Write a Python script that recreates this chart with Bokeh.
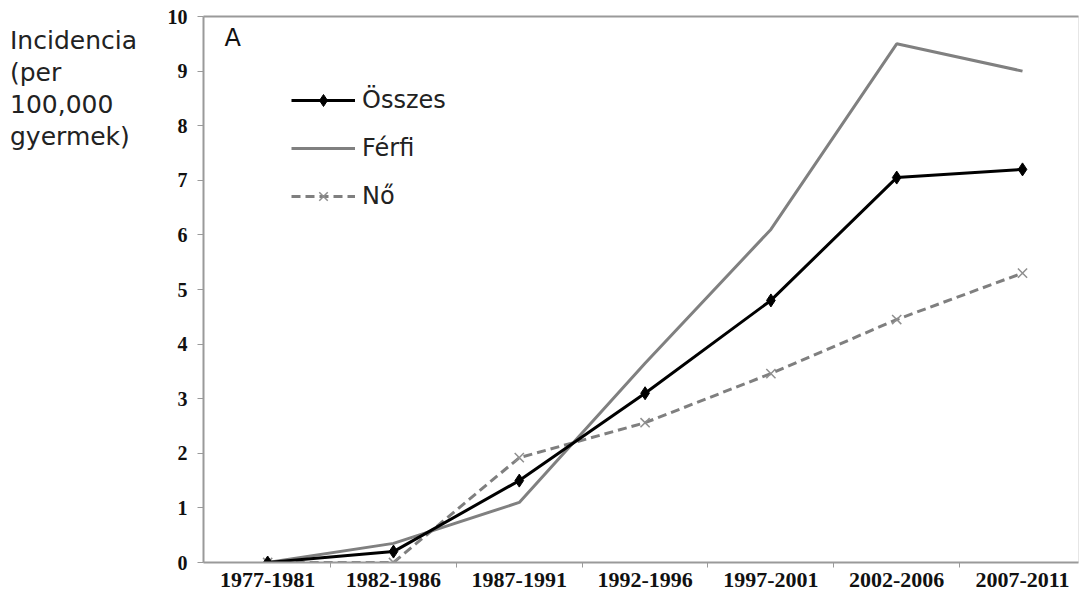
from bokeh.plotting import figure
from bokeh.layouts import row
from bokeh.models import (FixedTicker, LinearAxis, Label, Legend, LegendItem,
                          Range1d, Div)
from bokeh.embed import file_html
from bokeh.resources import INLINE

periods = ["1977-1981", "1982-1986", "1987-1991", "1992-1996",
           "1997-2001", "2002-2006", "2007-2011"]
osszes = [0.0, 0.2, 1.5, 3.1, 4.8, 7.05, 7.2]
ferfi = [0.0, 0.35, 1.1, 3.65, 6.1, 9.5, 9.0]
no = [0.0, 0.0, 1.92, 2.56, 3.46, 4.45, 5.3]
y_title = ["Incidencia", "(per", "100,000", "gyermek)"]

xs = [i + 0.5 for i in range(len(periods))]

p = figure(width=922, height=598, output_backend="svg", toolbar_location=None,
           x_range=Range1d(-0.01, 6.945), y_range=Range1d(0, 10),
           min_border_left=43, min_border_right=4, min_border_top=16,
           min_border_bottom=36)

p.background_fill_color = "white"
p.border_fill_color = "white"
p.outline_line_color = "#e6e6e6"
p.grid.visible = False

# series
r_f_line = p.line(xs, ferfi, line_color="#808080", line_width=3)
r_no_line = p.line(xs, no, line_color="#7f7f7f", line_width=3, line_dash="9 5")
r_no_pts = p.scatter(xs, no, marker="x", size=13, line_color="#8f8f8f", line_width=1.5)
r_o_line = p.line(xs, osszes, line_color="black", line_width=3)
r_o_pts = p.scatter(xs, osszes, marker="diamond", size=13, fill_color="black",
                    line_color="black")

# axes: labels at category centres, small ticks between categories
xa = p.xaxis[0]
xa.ticker = FixedTicker(ticks=xs, minor_ticks=list(range(1, len(periods))))
xa.major_label_overrides = {x: lab for x, lab in zip(xs, periods)}
xa.major_tick_line_color = None
xa.minor_tick_out = 5
xa.minor_tick_in = 0
xa.minor_tick_line_color = "#9a9a9a"
xa.axis_line_color = "#9a9a9a"
xa.axis_line_width = 2
xa.major_label_text_font = "Liberation Serif"
xa.major_label_text_font_style = "bold"
xa.major_label_text_font_size = "22px"
xa.major_label_text_color = "#111111"
xa.major_label_standoff = 4

ya = p.yaxis[0]
ya.ticker = FixedTicker(ticks=list(range(0, 11)))
ya.axis_line_color = "#9a9a9a"
ya.axis_line_width = 2
ya.major_tick_line_color = "#9a9a9a"
ya.major_tick_out = 6
ya.major_tick_in = 0
ya.minor_tick_line_color = None
ya.major_label_text_font = "Liberation Serif"
ya.major_label_text_font_style = "bold"
ya.major_label_text_font_size = "20px"
ya.major_label_text_color = "#111111"
ya.major_label_standoff = 10

top = LinearAxis(ticker=FixedTicker(ticks=[]), axis_line_color="#9a9a9a",
                 axis_line_width=2, major_label_text_font_size="0px",
                 major_tick_line_color=None, minor_tick_line_color=None)
p.add_layout(top, "above")

p.add_layout(Label(x=21, y=525, x_units="screen", y_units="screen", text="A",
                   text_font="DejaVu Sans", text_font_size="24px",
                   text_color="#111111", text_baseline="middle"))

legend = Legend(items=[
    LegendItem(label="Összes", renderers=[r_o_line, r_o_pts]),
    LegendItem(label="Férfi", renderers=[r_f_line]),
    LegendItem(label="Nő", renderers=[r_no_line, r_no_pts]),
], location=(88, 351), label_text_font="DejaVu Sans", label_text_font_size="24px",
   label_text_color="#222222", glyph_width=64, glyph_height=30, spacing=18,
   label_standoff=7, border_line_color=None, background_fill_alpha=0)
p.add_layout(legend)

title = Div(text='<div style="padding:25px 0 0 10px">' + "<br>".join(y_title) + "</div>",
            width=160, height=598,
            styles={"font-family": "'DejaVu Sans', sans-serif", "font-size": "25px",
                    "line-height": "32px", "color": "#222222", "margin": "0"})

layout = row(title, p, spacing=0)

open("out.html", "w").write(file_html(layout, INLINE))
